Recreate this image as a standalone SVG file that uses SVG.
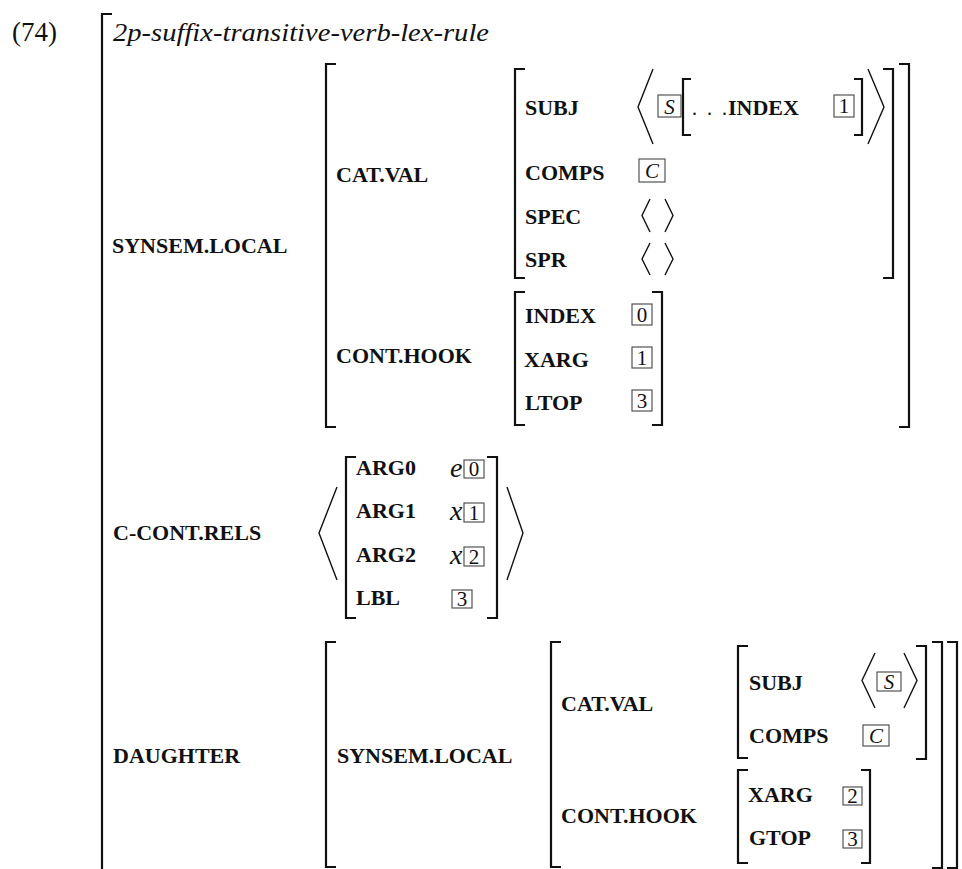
<svg xmlns="http://www.w3.org/2000/svg" width="962" height="869" viewBox="0 0 962 869">
<style>
text{font-family:"Liberation Serif","Times New Roman",serif;fill:#111}
.lbl{font-weight:bold;font-size:22px}
.it{font-style:italic}
.title{font-style:italic;font-size:26px}
.br{fill:none;stroke:#111;stroke-width:2.2}
.ang{fill:none;stroke:#111;stroke-width:1.4}
.box{fill:none;stroke:#444;stroke-width:1.1}
.num{font-size:21px;text-anchor:middle}
.var{font-size:28px;font-style:italic}
</style>
<rect width="962" height="869" fill="#fff"/>

<g id="example-number"><text x="12" y="41" font-size="27">(74)</text></g>

<g id="root">
  <path class="br" d="M112,14 H102 V869"/>
  <text class="title" x="113" y="41" textLength="376" lengthAdjust="spacingAndGlyphs">2p-suffix-transitive-verb-lex-rule</text>
</g>

<g id="synsem-local">
  <text class="lbl" x="112" y="253">SYNSEM.LOCAL</text>
  <path class="br" d="M336,64 H326 V427 H336"/>
  <path class="br" d="M899,64 H909 V427 H899"/>
</g>

<g id="cat-val">
  <text class="lbl" x="336" y="182">CAT.VAL</text>
  <path class="br" d="M525,69 H515 V278 H525"/>
  <path class="br" d="M883,69 H893 V278 H883"/>
  <text class="lbl" x="525" y="115">SUBJ</text>
  <path class="ang" d="M653,69 L638,107 L653,144"/>
  <rect class="box" x="658" y="95" width="23" height="22"/>
  <text class="num it" x="669.5" y="113.5">S</text>
  <path class="br" d="M691,79 H683 V135 H691"/>
  <text y="115" font-size="20"><tspan x="692">.</tspan><tspan x="707">.</tspan><tspan x="722">.</tspan></text>
  <text class="lbl" x="728" y="115">INDEX</text>
  <rect class="box" x="834" y="95" width="20" height="22"/>
  <text class="num" x="844" y="113">1</text>
  <path class="br" d="M854,79 H862 V135 H854"/>
  <path class="ang" d="M868,69 L884,107 L868,144"/>
  <text class="lbl" x="525" y="180">COMPS</text>
  <rect class="box" x="639" y="159" width="26" height="23"/>
  <text class="num it" x="652" y="177.5">C</text>
  <text class="lbl" x="525" y="224">SPEC</text>
  <path class="ang" d="M650,199 L642,215.5 L650,232"/>
  <path class="ang" d="M665,199 L673,215.5 L665,232"/>
  <text class="lbl" x="525" y="267">SPR</text>
  <path class="ang" d="M650,243 L642,259 L650,275"/>
  <path class="ang" d="M665,243 L673,259 L665,275"/>
</g>

<g id="cont-hook">
  <text class="lbl" x="336" y="363">CONT.HOOK</text>
  <path class="br" d="M525,292 H515 V425 H525"/>
  <path class="br" d="M652,292 H662 V425 H652"/>
  <text class="lbl" x="525" y="323">INDEX</text>
  <rect class="box" x="632" y="304" width="20" height="21"/>
  <text class="num" x="642" y="321.5">0</text>
  <text class="lbl" x="524" y="367">XARG</text>
  <rect class="box" x="632" y="347" width="20" height="21"/>
  <text class="num" x="642" y="364.5">1</text>
  <text class="lbl" x="525" y="410">LTOP</text>
  <rect class="box" x="632" y="390" width="20" height="21"/>
  <text class="num" x="642" y="407.5">3</text>
</g>

<g id="c-cont-rels">
  <text class="lbl" x="113" y="540">C-CONT.RELS</text>
  <path class="ang" d="M337,487 L319,533 L337,580"/>
  <path class="br" d="M356,457 H346 V618 H356"/>
  <path class="br" d="M487,457 H497 V618 H487"/>
  <text class="lbl" x="356" y="475">ARG0</text>
  <text class="var" x="450" y="477">e</text>
  <rect class="box" x="464" y="460" width="20" height="18"/>
  <text class="num" x="474" y="476">0</text>
  <text class="lbl" x="356" y="518">ARG1</text>
  <text class="var" x="450" y="520">x</text>
  <rect class="box" x="464" y="503" width="20" height="19"/>
  <text class="num" x="474" y="519.5">1</text>
  <text class="lbl" x="356" y="562">ARG2</text>
  <text class="var" x="450" y="564">x</text>
  <rect class="box" x="464" y="547" width="20" height="19"/>
  <text class="num" x="474" y="563.5">2</text>
  <text class="lbl" x="356" y="605">LBL</text>
  <rect class="box" x="452" y="590" width="20" height="18"/>
  <text class="num" x="462" y="606">3</text>
  <path class="ang" d="M507,487 L523,533 L507,580"/>
</g>

<g id="daughter">
  <text class="lbl" x="113" y="763">DAUGHTER</text>
  <path class="br" d="M336,642 H326 V867 H336"/>
  <path class="br" d="M947,642 H957 V868 H947"/>
</g>

<g id="daughter-synsem-local">
  <text class="lbl" x="337" y="763">SYNSEM.LOCAL</text>
  <path class="br" d="M561,642 H551 V867 H561"/>
  <path class="br" d="M932,642 H942 V868 H932"/>
</g>

<g id="daughter-cat-val">
  <text class="lbl" x="561" y="711">CAT.VAL</text>
  <path class="br" d="M748,646 H738 V758 H748"/>
  <path class="br" d="M916,646 H926 V759 H916"/>
  <text class="lbl" x="749" y="690">SUBJ</text>
  <path class="ang" d="M875,653 L862,680.5 L875,708"/>
  <rect class="box" x="877" y="672" width="24" height="19"/>
  <text class="num it" x="889" y="688.5">S</text>
  <path class="ang" d="M904,653 L917,680.5 L904,708"/>
  <text class="lbl" x="749" y="743">COMPS</text>
  <rect class="box" x="863" y="725" width="26" height="21"/>
  <text class="num it" x="876" y="742.5">C</text>
</g>

<g id="daughter-cont-hook">
  <text class="lbl" x="561" y="823">CONT.HOOK</text>
  <path class="br" d="M748,770 H738 V863 H748"/>
  <path class="br" d="M861,770 H870 V863 H861"/>
  <text class="lbl" x="748" y="802">XARG</text>
  <rect class="box" x="843" y="787" width="19" height="18"/>
  <text class="num" x="852.5" y="803">2</text>
  <text class="lbl" x="749" y="845">GTOP</text>
  <rect class="box" x="843" y="830" width="19" height="18"/>
  <text class="num" x="852.5" y="846">3</text>
</g>
</svg>
